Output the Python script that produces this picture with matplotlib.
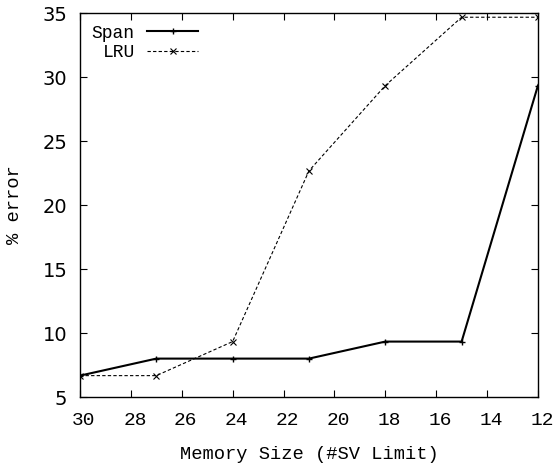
import matplotlib
matplotlib.use('Agg')
import matplotlib.pyplot as plt
import matplotlib.transforms as mtransforms

mem_limit = [30, 27, 24, 21, 18, 15, 12]
span_err = [6.67, 8.0, 8.0, 8.0, 9.33, 9.33, 29.33]
lru_err = [6.67, 6.67, 9.33, 22.67, 29.33, 34.67, 34.67]

mono = 'Liberation Mono'

fig = plt.figure(figsize=(5.54, 4.68), dpi=100)
ax = fig.add_axes([0.1444, 0.1517, 0.8266, 0.8205])

ax.plot(mem_limit, span_err, color='black', lw=1.5, marker='+', ms=5, mew=1,
        label='Span')
ax.plot(mem_limit, lru_err, color='black', lw=0.8, ls=(0, (3, 2)), marker='x',
        ms=4, mew=0.8, label='LRU')

ax.set_xlim(30, 12)
ax.set_ylim(5, 35)
ax.set_xticks(range(30, 11, -2))
ax.set_yticks(range(5, 36, 5))
ax.tick_params(direction='in', top=True, right=True, length=5, width=0.8)
ax.tick_params(axis='y', labelsize=14, pad=9)
ax.tick_params(axis='x', labelsize=14, pad=11)
shift = mtransforms.ScaledTranslation(4 / 100, 0, fig.dpi_scale_trans)
for lab in ax.get_xticklabels():
    lab.set_fontfamily(mono)
    lab.set_transform(lab.get_transform() + shift)
for sp in ax.spines.values():
    sp.set_linewidth(1)

ax.set_xlabel('Memory Size (#SV Limit)', fontfamily=mono, fontsize=13.5, labelpad=12)
ax.set_ylabel('% error', fontfamily=mono, fontsize=13.5, labelpad=14)

leg = ax.legend(loc='upper left', markerfirst=False, frameon=False,
                prop={'family': mono, 'size': 13},
                handlelength=2.8, borderaxespad=0.25, labelspacing=0.12,
                handletextpad=0.7)

fig.savefig('out.png', dpi=100)
